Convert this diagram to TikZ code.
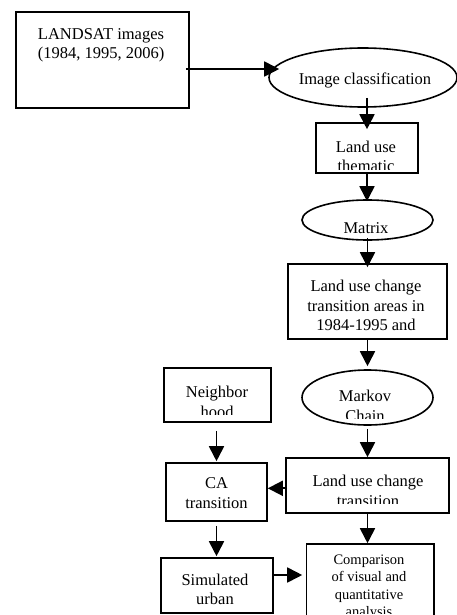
\documentclass[tikz,border=0pt]{standalone}
\usepackage{fontspec}
\setmainfont{Liberation Serif}
\usetikzlibrary{arrows.meta,shapes.geometric,calc}
\begin{document}
\begin{tikzpicture}[x=1pt,y=-1pt,
  box/.style={draw,line width=1.6pt,rectangle,inner sep=0},
  oval/.style={draw,line width=1.6pt,ellipse,inner sep=0},
  txt/.style={align=center,inner sep=0,anchor=north,font=\fontsize{16.5}{19.5}\selectfont},
  smalltxt/.style={align=center,inner sep=0,anchor=north,font=\fontsize{14.5}{17.5}\selectfont},
  arr/.style={line width=1.8pt,-{Triangle[length=15pt,width=15pt]}}]
\clip (0,0) rectangle (457,615);

% shapes
\node[box,minimum width=173pt,minimum height=96pt] (ls) at (102.5,60) {};
\node[oval,minimum width=188pt,minimum height=59pt] (ic) at (363,77.5) {};
\node[box,minimum width=102pt,minimum height=50pt] (lut) at (367,148) {};
\node[oval,minimum width=131pt,minimum height=40pt] (mat) at (367.5,220) {};
\node[box,minimum width=159pt,minimum height=75pt] (lucta) at (367.5,301.5) {};
\node[oval,minimum width=131pt,minimum height=55pt] (mk) at (367.5,397.5) {};
\node[box,minimum width=107pt,minimum height=54pt] (nb) at (217.5,395) {};
\node[box,minimum width=101pt,minimum height=58pt] (ca) at (216.5,492) {};
\node[box,minimum width=163pt,minimum height=55pt] (luct) at (367.5,485.5) {};
\node[box,minimum width=112pt,minimum height=55pt] (sim) at (217,585.5) {};
\node[box,minimum width=127.5pt,minimum height=86pt] (cmp) at (370.25,587) {};

% texts
\node[txt] (lst) at (101,25.35) {\strut LANDSAT images\\\strut (1984, 1995, 2006)};
\node[txt] (ict) at (365,70.35) {\strut Image classification};
\begin{scope}
  \clip (318,124) rectangle (416,169);
  \node[txt] (lutt) at (366,138.35) {\strut Land use\\\strut thematic};
\end{scope}
\node[txt] (matt) at (366,219.85) {\strut Matrix};
\node[txt] (luctat) at (366,277.85) {\strut Land use change\\\strut transition areas in\\\strut 1984-1995 and};
\begin{scope}
  \clip (310,380) rectangle (425,418);
  \node[txt] (mkt) at (365,387.85) {\strut Markov\\\strut Chain};
\end{scope}
\begin{scope}
  \clip (166,370) rectangle (269,414);
  \node[txt] (nbt) at (217,383.65) {\strut Neighbor\\\strut hood};
\end{scope}
\node[txt] (cat) at (216.5,474.65) {\strut CA\\\strut transition};
\begin{scope}
  \clip (288,460) rectangle (447,503);
  \node[txt] (luctt) at (368,473.05) {\strut Land use change\\\strut transition};
\end{scope}
\node[txt] (simt) at (215,571.35) {\strut Simulated\\\strut urban};
\begin{scope}
  \clip (308,546) rectangle (432,613);
  \node[smalltxt] (cmpt) at (369,551.75) {\strut Comparison\\\strut of visual and\\\strut quantitative\\\strut analysis};
\end{scope}

% connectors
\draw[arr] ($(ls.east)+(-4,9)$) -- ($(ic.west)+(11,-8.5)$);
\draw[arr] ($(ic.south -| lut.north)+(0,-10)$) -- ($(lut.north)+(0,7)$);
\draw[arr] (lut.south) -- ($(mat.north -| lut.south)+(0,2)$);
\draw[arr] ($(mat.south -| lucta.north)+(0,-3)$) -- ($(lucta.north)+(0,4)$);
\draw[arr] (lucta.south) -- ($(mk.north)+(0,-3)$);
\draw[arr] ($(mk.south)+(0,3)$) -- (luct.north);
\draw[arr] ($(nb.south -| ca.north)+(0,8)$) -- ($(ca.north)+(0,-1)$);
\draw[arr] ($(luct.west)+(2,2.8)$) -- ($(ca.east)+(0,-3.7)$);
\draw[arr] ($(ca.south)+(0,4)$) -- ($(sim.north -| ca.south)+(0,-1)$);
\draw[arr] (luct.south) -- (cmp.north -| luct.south);
\draw[arr] ($(sim.east)+(0,-10.5)$) -- ($(cmp.west)+(-3.5,-12)$);
\end{tikzpicture}
\end{document}
